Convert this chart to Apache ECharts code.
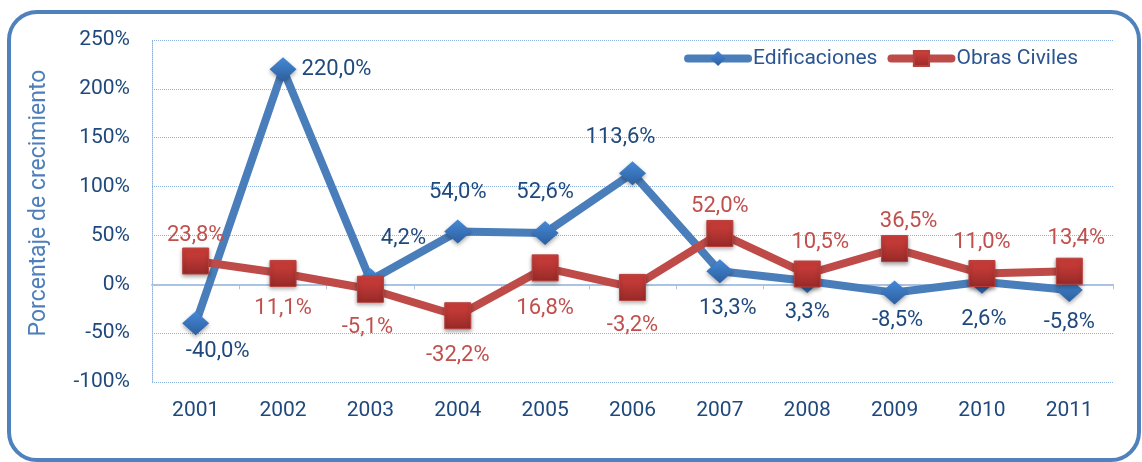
<!DOCTYPE html>
<html>
<head>
<meta charset="utf-8">
<title>Crecimiento</title>
<script src="https://cdn.jsdelivr.net/npm/echarts@6/dist/echarts.min.js"></script>
<style>
    html, body { margin: 0; padding: 0; background: #fff; }
    #frame {
        position: absolute; left: 7px; top: 10px; width: 1134px; height: 452px;
        box-sizing: border-box; border: 4px solid #4f81bd; border-radius: 30px;
    }
    #chart { position: absolute; left: 0; top: 0; width: 1142px; height: 462px; }
</style>
</head>
<body>
<div id="frame"></div>
<div id="chart"></div>
<script>
// datos
var years = ['2001', '2002', '2003', '2004', '2005', '2006', '2007', '2008', '2009', '2010', '2011'];
var edificaciones = [-40.0, 220.0, 4.2, 54.0, 52.6, 113.6, 13.3, 3.3, -8.5, 2.6, -5.8];
var obrasCiviles = [23.8, 11.1, -5.1, -32.2, 16.8, -3.2, 52.0, 10.5, 36.5, 11.0, 13.4];
var yTicks = [-100, -50, 0, 50, 100, 150, 200, 250];

// donde va cada etiqueta
var edifLabelPos = ['bottom', 'right', 'top', 'top', 'top', 'top', 'bottom', 'bottom', 'bottom', 'bottom', 'bottom'];
var edifLabelOffset = [[22, 0], [0, 0], [33, -14], [0, -11], [0, -12], [-12, -8], [8, 9], [0, 3], [3, 0], [2, 10], [0, 5]];
var obrasLabelPos = ['top', 'bottom', 'bottom', 'bottom', 'bottom', 'bottom', 'top', 'top', 'top', 'top', 'top'];
var obrasLabelOffset = [[0, 4], [0, 6], [-3, 9], [0, 10], [0, 11], [0, 9], [0, 3], [13, -2], [14, 2], [0, -2], [7, -3]];

var font = 'Roboto';
var darkBlue = '#1f497d';
var gridColor = '#8db3e2';

function buildData(values, pos, offset) {
    return values.map(function (v, i) {
        return { value: v, label: { position: pos[i], offset: offset[i] } };
    });
}

function pct(p) {
    return p.value.toFixed(1).replace('.', ',') + '%';
}

var myChart = echarts.init(document.getElementById('chart'));

var option = {
    animation: false,
    textStyle: { fontFamily: font },
    grid: { left: 152, right: 29, top: 40, bottom: 80, containLabel: false },
    legend: {
        right: 59,
        top: 43,
        itemWidth: 60,
        itemHeight: 19,
        itemGap: 10,
        lineStyle: { width: 8, cap: 'round' },
        textStyle: { color: '#2b5590', fontSize: 21, fontFamily: font },
        data: ['Edificaciones', 'Obras Civiles']
    },
    xAxis: [{
        type: 'category',
        data: years,
        position: 'bottom',
        boundaryGap: true,
        axisLine: { show: false, onZero: false },
        axisTick: { show: false },
        axisLabel: { color: darkBlue, fontSize: 21, margin: 18, fontFamily: font },
        splitLine: { show: false }
    }, {
        // linea del cero con sus marcas
        type: 'category',
        data: years,
        position: 'top',
        boundaryGap: true,
        axisLine: { show: true, onZero: true, lineStyle: { color: '#a9c3e3', width: 2 } },
        axisTick: { show: true, inside: true, length: 5, lineStyle: { color: '#a9c3e3' } },
        axisLabel: { show: false },
        splitLine: { show: false }
    }],
    yAxis: {
        type: 'value',
        min: yTicks[0],
        max: yTicks[yTicks.length - 1],
        interval: yTicks[1] - yTicks[0],
        name: 'Porcentaje de crecimiento',
        nameLocation: 'middle',
        nameRotate: 90,
        nameGap: 101,
        nameTextStyle: { color: '#4f7fba', fontSize: 23, fontFamily: font, padding: [0, 0, 0, 16] },
        axisLine: { show: true, lineStyle: { color: gridColor, type: 'dotted' } },
        axisTick: { show: false },
        axisLabel: { color: darkBlue, fontSize: 21, margin: 22, formatter: '{value}%', fontFamily: font },
        splitLine: { show: true, lineStyle: { color: gridColor, type: 'dotted' } }
    },
    series: [{
        name: 'Edificaciones',
        type: 'line',
        xAxisIndex: 0,
        data: buildData(edificaciones, edifLabelPos, edifLabelOffset),
        symbol: 'diamond',
        symbolSize: [27, 24],
        lineStyle: { color: '#4a7ebb', width: 8 },
        itemStyle: {
            color: new echarts.graphic.LinearGradient(0, 0, 0, 1, [
                { offset: 0, color: '#4589d6' },
                { offset: 1, color: '#2d5f9f' }
            ]),
            shadowColor: 'rgba(0,0,0,0.35)', shadowBlur: 4, shadowOffsetY: 2
        },
        label: {
            show: true, color: darkBlue, fontSize: 22, distance: 5, fontFamily: font,
            formatter: pct
        }
    }, {
        name: 'Obras Civiles',
        type: 'line',
        xAxisIndex: 0,
        data: buildData(obrasCiviles, obrasLabelPos, obrasLabelOffset),
        symbol: 'rect',
        symbolSize: 26,
        lineStyle: { color: '#be4b48', width: 8 },
        itemStyle: {
            color: new echarts.graphic.LinearGradient(0, 0, 0, 1, [
                { offset: 0, color: '#d4403c' },
                { offset: 1, color: '#962a28' }
            ]),
            borderColor: '#b8413e', borderWidth: 1,
            shadowColor: 'rgba(0,0,0,0.35)', shadowBlur: 4, shadowOffsetY: 2
        },
        label: {
            show: true, color: '#c0504d', fontSize: 22, distance: 5, fontFamily: font,
            formatter: pct
        }
    }]
};

myChart.setOption(option);
</script>
</body>
</html>
